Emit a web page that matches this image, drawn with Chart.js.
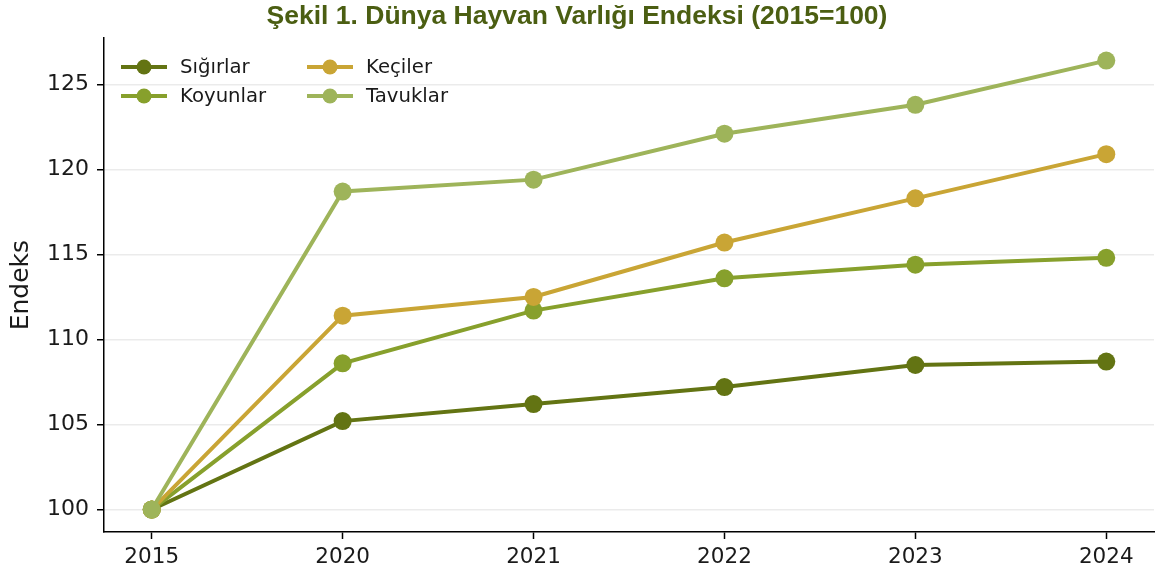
<!DOCTYPE html>
<html>
<head>
<meta charset="utf-8">
<script src="https://cdn.jsdelivr.net/npm/chart.js@4.4.1/dist/chart.umd.min.js"></script>
<style>
html,body{margin:0;padding:0;background:#fff;}
#wrap{width:1156px;height:576px;position:relative;}
</style>
</head>
<body>
<div id="wrap"><canvas id="c" width="1156" height="576"></canvas></div>
<script>
const categories = ['2015', '2020', '2021', '2022', '2023', '2024'];
const sigirlar = [100, 105.2, 106.2, 107.2, 108.5, 108.7];
const koyunlar = [100, 108.6, 111.7, 113.6, 114.4, 114.8];
const keciler  = [100, 111.4, 112.5, 115.7, 118.3, 120.9];
const tavuklar = [100, 118.7, 119.4, 122.1, 123.8, 126.4];
const seriesNames = ['Sığırlar', 'Koyunlar', 'Keçiler', 'Tavuklar'];
const seriesColors = ['#637413', '#87a02c', '#c9a535', '#9eb45a'];
const yTicks = [100, 105, 110, 115, 120, 125];

const allSeries = [sigirlar, koyunlar, keciler, tavuklar];
const datasets = allSeries.map((vals, i) => ({
  label: seriesNames[i],
  data: vals.map((v, j) => ({x: j, y: v})),
  borderColor: seriesColors[i],
  backgroundColor: seriesColors[i],
  pointBackgroundColor: seriesColors[i],
  pointBorderWidth: 0,
  pointRadius: 9,
  borderWidth: 4,
  tension: 0,
  order: allSeries.length - 1 - i
}));

const legendPlugin = {
  id: 'insideLegend',
  afterDatasetsDraw(chart) {
    const ctx = chart.ctx;
    const cols = [{x0: 121, tx: 180}, {x0: 307, tx: 366}];
    const rows = [67, 96];
    ctx.save();
    ctx.font = '19.7px "DejaVu Sans"';
    ctx.textBaseline = 'middle';
    chart.data.datasets.forEach((ds, i) => {
      const c = cols[Math.floor(i / 2)];
      const y = rows[i % 2];
      ctx.strokeStyle = ds.borderColor;
      ctx.lineWidth = 4;
      ctx.beginPath();
      ctx.moveTo(c.x0, y);
      ctx.lineTo(c.x0 + 46, y);
      ctx.stroke();
      ctx.fillStyle = ds.borderColor;
      ctx.beginPath();
      ctx.arc(c.x0 + 23, y, 7.5, 0, Math.PI * 2);
      ctx.fill();
      ctx.fillStyle = '#1a1a1a';
      ctx.fillText(ds.label, c.tx, y + 1);
    });
    ctx.restore();
  }
};

new Chart(document.getElementById('c'), {
  type: 'line',
  data: {datasets},
  plugins: [legendPlugin],
  options: {
    responsive: false,
    animation: false,
    layout: {autoPadding: false, padding: {left: 0, right: 2, top: 0, bottom: 0}},
    plugins: {
      legend: {display: false},
      tooltip: {enabled: false},
      title: {
        display: true,
        text: 'Şekil 1. Dünya Hayvan Varlığı Endeksi (2015=100)',
        color: '#4b5e12',
        font: {family: '"Liberation Sans", Arial, sans-serif', size: 26.5, weight: 'bold', lineHeight: 1.1},
        padding: {top: 2, bottom: 7}
      }
    },
    scales: {
      x: {
        type: 'linear',
        min: -0.25,
        max: 5.25,
        afterBuildTicks(scale) { scale.ticks = categories.map((c, i) => ({value: i})); },
        afterFit(scale) { scale.height = 44; scale.paddingLeft = 0; scale.paddingRight = 0; },
        ticks: {
          callback: (v) => categories[v],
          color: '#1a1a1a',
          font: {family: '"DejaVu Sans"', size: 21.5},
          padding: 6,
          maxRotation: 0
        },
        grid: {drawOnChartArea: false, tickColor: '#000', tickLength: 7, tickWidth: 1.5},
        border: {color: '#000', width: 1.5}
      },
      y: {
        min: 98.68,
        max: 127.72,
        afterBuildTicks(scale) { scale.ticks = yTicks.map(v => ({value: v})); },
        afterFit(scale) { scale.width = 104; },
        ticks: {
          color: '#1a1a1a',
          font: {family: '"DejaVu Sans"', size: 22},
          padding: 8
        },
        grid: {color: '#ebebeb', lineWidth: 1.5, tickColor: '#000', tickLength: 7, tickWidth: 1.5},
        border: {color: '#000', width: 1.5},
        title: {
          display: true,
          text: 'Endeks',
          color: '#1a1a1a',
          font: {family: '"DejaVu Sans"', size: 25},
          padding: {top: 6, bottom: 0}
        }
      }
    }
  }
});
</script>
</body>
</html>
